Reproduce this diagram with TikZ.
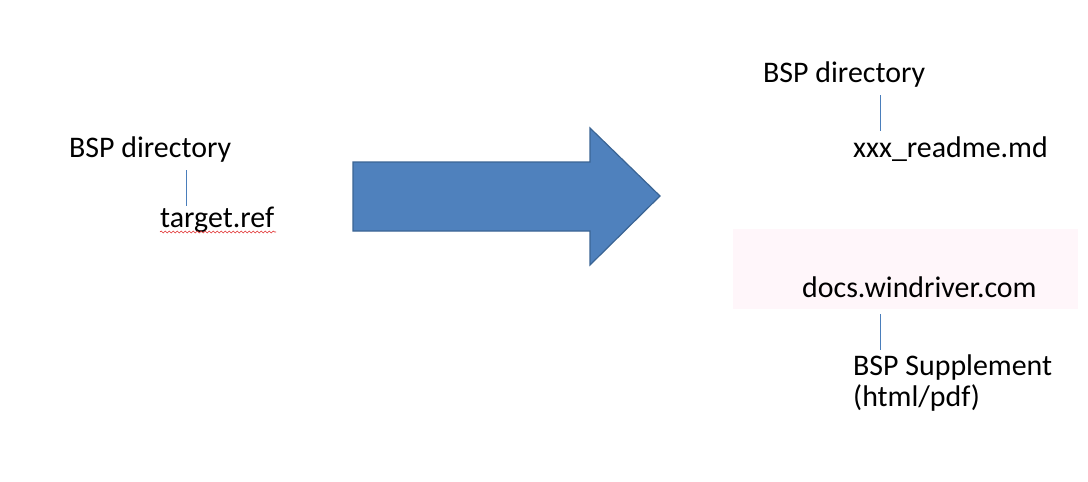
\documentclass[tikz,border=0pt]{standalone}
\usepackage{fontspec}
\setmainfont{Carlito}
\usetikzlibrary{decorations.pathmorphing}
\definecolor{arrowfill}{HTML}{4F81BD}
\definecolor{arrowedge}{HTML}{3A6494}
\definecolor{linkline}{HTML}{4A7EBB}
\definecolor{pinkbg}{HTML}{FFF6FA}
\definecolor{spellred}{HTML}{E03030}
\tikzset{
  lbl/.style={anchor=base west, inner sep=0pt, font=\fontsize{29.9}{35}\selectfont},
  conn/.style={draw=linkline, line width=0.9pt},
}
\begin{document}
\begin{tikzpicture}[x=1pt,y=-1pt]
\useasboundingbox (0,0) rectangle (1088,482);
% left side
\node[lbl] (bspL) at (69,157) {BSP directory};
\node[lbl] (tref) at (160,227) {target.ref};
\coordinate (l1a) at (186,170);
\coordinate (l1b) at (186,206);
\draw[conn] (l1a) -- (l1b);
\coordinate (wavA) at (160,232);
\coordinate (wavB) at (276,232);
\draw[spellred, line width=0.6pt, decorate, decoration={snake, amplitude=1pt, segment length=4pt}] (wavA) -- (wavB);
% big arrow
\draw[fill=arrowfill, draw=arrowedge, line width=1.2pt, line join=miter]
  (353,162) -- (590,162) -- (590,128) -- (660,196) -- (590,265) -- (590,231) -- (353,231) -- cycle;
% right side
\node[lbl] (bspR) at (763,82) {BSP directory};
\node[lbl] (readme) at (853,157) {xxx\_readme.md};
\coordinate (l2a) at (880,95);
\coordinate (l2b) at (880,131);
\draw[conn] (l2a) -- (l2b);
\fill[pinkbg] (733,229) rectangle (1078,309);
\node[lbl] (docs) at (802,297) {docs.windriver.com};
\coordinate (l3a) at (880,314);
\coordinate (l3b) at (880,350);
\draw[conn] (l3a) -- (l3b);
\node[lbl] (supp) at (853,375) {BSP Supplement};
\node[lbl] (hp) at (853,406) {(html/pdf)};
\end{tikzpicture}
\end{document}
